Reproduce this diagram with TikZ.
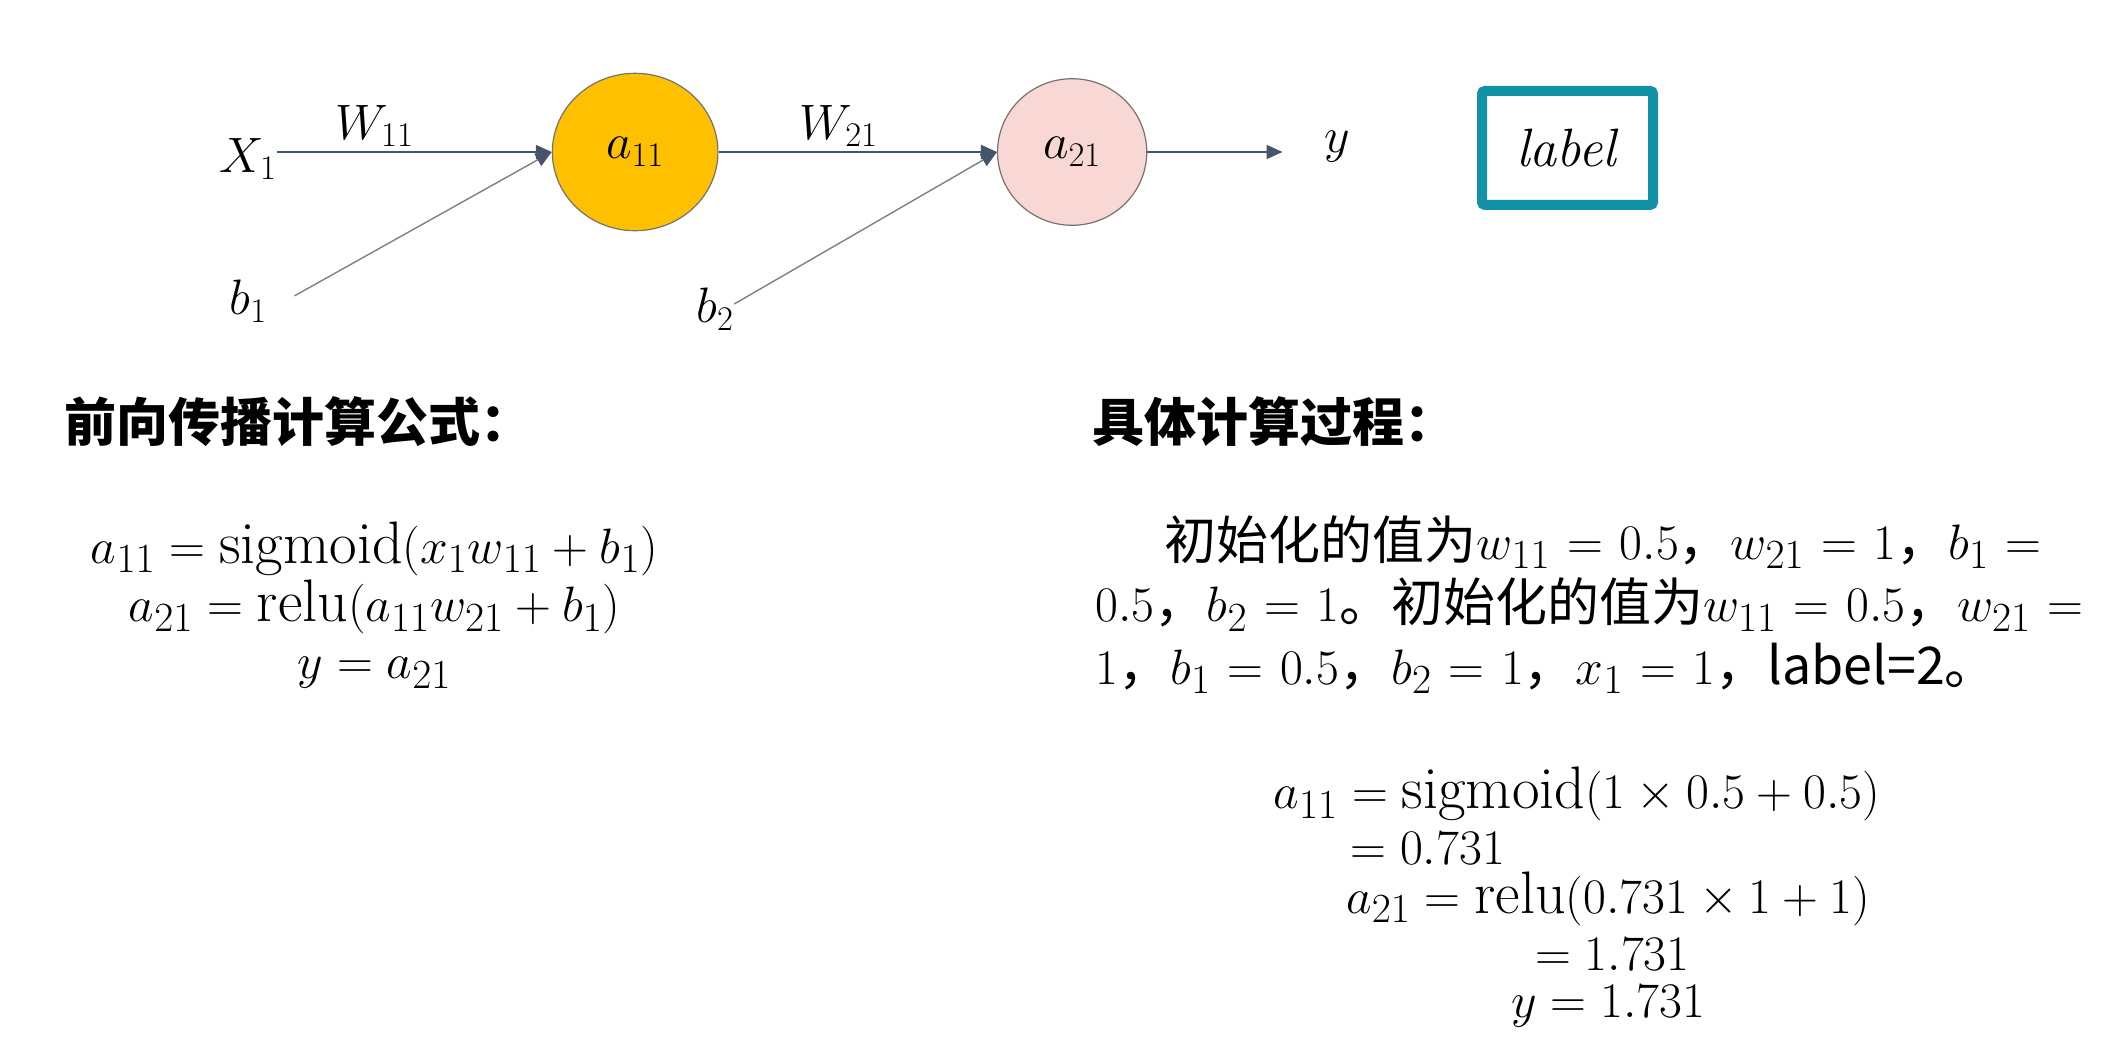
\documentclass[tikz,border=0pt]{standalone}
\usepackage{fontspec}
\newfontfamily\cjk{Noto Sans CJK SC}
\usetikzlibrary{arrows.meta,shapes.geometric}
\definecolor{arr}{HTML}{44546A}
\definecolor{goldn}{HTML}{FFC000}
\definecolor{pinkn}{HTML}{F8D7D5}
\definecolor{tealbox}{HTML}{1391A8}
\newcommand\mth[1]{{\fontsize{27.5}{30}\selectfont\thickmuskip=6mu plus 2mu$#1$}}
\begin{document}
\begin{tikzpicture}[x=0.6786pt,y=-0.6786pt,
  neuron/.style={ellipse, draw=black!55, line width=0.6pt, inner sep=0pt},
  conn/.style={draw=arr, line width=1pt, -{Triangle[length=8pt,width=7pt]}},
  biasline/.style={draw=black!50, line width=0.7pt, -{Triangle[length=8pt,width=7pt,color=arr]}},
  lbl/.style={font=\fontsize{25}{28}\selectfont, inner sep=0pt},
  head/.style={font=\cjk\bfseries\fontsize{26}{28}\selectfont, inner sep=0pt, anchor=west},
  para/.style={font=\cjk\fontsize{26}{30}\selectfont, inner sep=0pt, anchor=base west},
  eq/.style={font=\fontsize{30}{34}\selectfont, inner sep=0pt, anchor=base}]
\useasboundingbox[fill=white] (0,0) rectangle (1568,766);

% network
\node[neuron, fill=goldn, minimum width=82.8pt, minimum height=78.7pt] (a11) at (468,112) {\fontsize{25}{28}\selectfont$a_{11}$};
\node[neuron, fill=pinkn, minimum width=74.6pt, minimum height=73.3pt] (a21) at (790,112) {\fontsize{25}{28}\selectfont$a_{21}$};
\node[lbl] (X1) at (183,117) {$X_1$};
\node[lbl] (b1) at (183,222) {$b_1$};
\node[lbl] (b2) at (527,228) {$b_2$};
\node[lbl] (W11) at (276,93) {$W_{11}$};
\node[lbl] (W21) at (618,93) {$W_{21}$};
\node[lbl] (yout) at (985,108) {$y$};
\node[draw=tealbox, line width=5pt, rounded corners=1.5pt, minimum width=85.5pt, minimum height=57pt, inner sep=0pt, font=\fontsize{27}{30}\selectfont] (lab) at (1155,109) {\textit{label}};

\coordinate (b1s) at (217,218);
\coordinate (b2s) at (541,224);
\coordinate (yend) at (945,112);
\draw[conn] (X1.east |- a11.west) -- (a11.west);
\draw[biasline] (b1s) -- (a11.west);
\draw[conn] (a11.east) -- (a21.west);
\draw[biasline] (b2s) -- (a21.west);
\draw[conn] (a21.east) -- (yend);

% headings
\node[head] (h1) at (47,311) {前向传播计算公式：};
\node[head] (h2) at (805,311) {具体计算过程：};

% left formulas
\node[eq] (f1) at (276,415) {$a_{11} = \mathrm{sigmoid}(x_1 w_{11} + b_1)$};
\node[eq] (f2) at (276,458) {$a_{21} = \mathrm{relu}(a_{11} w_{21} + b_1)$};
\node[eq] (f3) at (276,500) {$y = a_{21}$};

% right paragraph
\node[para] (p1) at (858,412) {初始化的值为\mth{w_{11} = 0.5}，\mth{w_{21} = 1}，\mth{b_1 =}};
\node[para] (p2) at (807,458) {\mth{0.5}，\mth{b_2 = 1}。初始化的值为\mth{w_{11} = 0.5}，\mth{w_{21} =}};
\node[para] (p3) at (807,504) {\mth{1}，\mth{b_1 = 0.5}，\mth{b_2 = 1}，\mth{x_1 = 1}，label=2。};

% right formulas
\node[eq] (r1) at (1162,596) {$a_{11} = \mathrm{sigmoid}(1 \times 0.5 + 0.5)$};
\node[eq] (r2) at (1052,637) {$= 0.731$};
\node[eq] (r3) at (1185,673) {$a_{21} = \mathrm{relu}(0.731 \times 1 + 1)$};
\node[eq] (r4) at (1188,715) {$= 1.731$};
\node[eq] (r5) at (1185,750) {$y = 1.731$};
\end{tikzpicture}
\end{document}
